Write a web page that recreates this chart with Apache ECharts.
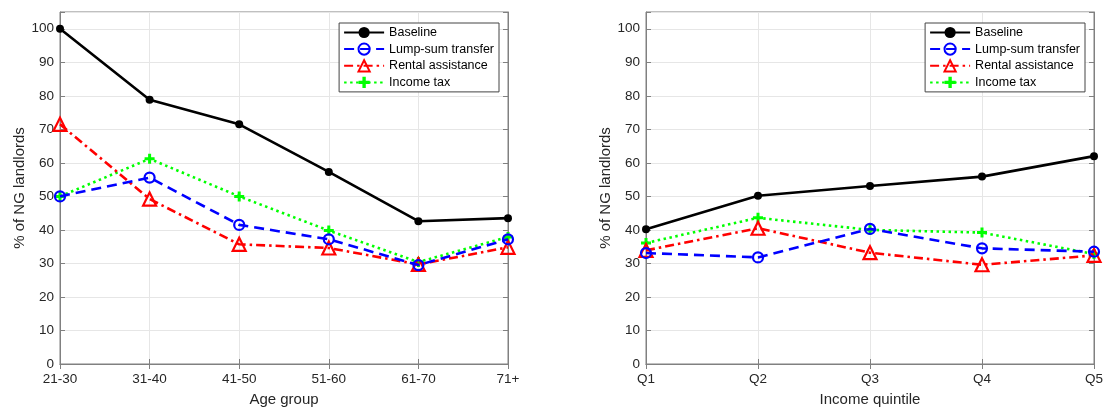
<!DOCTYPE html>
<html><head><meta charset="utf-8">
<script src="https://cdn.jsdelivr.net/npm/echarts@6/dist/echarts.min.js"></script>
<style>html,body{margin:0;padding:0;background:#fff}#c{width:1106px;height:408px}</style>
</head><body><div id="c"></div>
<script>
const ageGroups = ['21-30','31-40','41-50','51-60','61-70','71+'];
const quintiles = ['Q1','Q2','Q3','Q4','Q5'];
const seriesNames = ['Baseline','Lump-sum transfer','Rental assistance','Income tax'];
const yTicks = [0,10,20,30,40,50,60,70,80,90,100];

const ageBaseline = [100, 78.8, 71.5, 57.3, 42.6, 43.5];
const ageLumpSum  = [50, 55.6, 41.5, 37.2, 29.5, 37.2];
const ageRental   = [71.5, 49.2, 35.7, 34.6, 29.7, 34.8];
const ageIncome   = [50, 61.2, 50, 39.8, 30.4, 37.9];

const incBaseline = [40.2, 50.2, 53.1, 55.9, 62.0];
const incLumpSum  = [33.1, 31.8, 40.3, 34.5, 33.5];
const incRental   = [33.9, 40.5, 33.2, 29.6, 32.4];
const incIncome   = [36.1, 43.6, 40.0, 39.2, 32.8];

const plus = 'path://M3.5,0H6.5V3.5H10V6.5H6.5V10H3.5V6.5H0V3.5H3.5Z';
const txt = '#262626', axisC = '#808080', gridC = '#e6e6e6';
const font = 'Liberation Sans, Arial, sans-serif';

const styles = [
  {color:'#000000', type:'solid', symbol:'circle', size:8, fill:'#000000', bw:0},
  {color:'#0000ff', type:[10,6], symbol:'circle', size:10, fill:'rgba(255,255,255,0)', bw:2.2},
  {color:'#ff0000', type:[9,4,2.5,4], symbol:'triangle', size:13, fill:'rgba(255,255,255,0)', bw:2.2},
  {color:'#00ff00', type:[2.5,3.5], symbol:plus, size:10, fill:'#00ff00', bw:0}
];

function mkSeries(idx, data, gi){
  const s = styles[idx];
  return {
    name: seriesNames[idx], type:'line', xAxisIndex:gi*2, yAxisIndex:gi*2, data:data,
    symbol:s.symbol, symbolSize:s.size, showAllSymbol:true,
    lineStyle:{color:s.color, width:2.6, type:s.type},
    itemStyle:{color:s.fill, borderColor:s.color, borderWidth:s.bw},
    z: 10-idx, animation:false
  };
}

const grids = [
  {left:60, top:12, width:448, height:352, show:true, borderColor:axisC, borderWidth:1, backgroundColor:'#fff', containLabel:false, outerBoundsMode:'none'},
  {left:646, top:12, width:448, height:352, show:true, borderColor:axisC, borderWidth:1, backgroundColor:'#fff', containLabel:false, outerBoundsMode:'none'}
];

function xAx(gi, cats, name){
  return [{
    type:'category', gridIndex:gi, data:cats, boundaryGap:false,
    name:name, nameLocation:'middle', nameGap:28,
    nameTextStyle:{color:txt, fontSize:15, fontFamily:font},
    axisLine:{show:true, lineStyle:{color:axisC}},
    axisTick:{show:true, inside:true, length:5, lineStyle:{color:axisC}},
    axisLabel:{color:txt, fontSize:13.5, fontFamily:font, margin:8},
    splitLine:{show:true, lineStyle:{color:gridC}}
  },{
    type:'category', gridIndex:gi, data:cats, boundaryGap:false, position:'top',
    axisLine:{show:true, lineStyle:{color:axisC}},
    axisTick:{show:true, inside:true, length:5, lineStyle:{color:axisC}},
    axisLabel:{show:false}, splitLine:{show:false}
  }];
}
function yAx(gi){
  const base = {type:'value', gridIndex:gi, min:0, max:105, interval:10};
  return [Object.assign({}, base, {
    name:'% of NG landlords', nameLocation:'middle', nameGap:33, nameRotate:90,
    nameTextStyle:{color:txt, fontSize:15, fontFamily:font},
    axisLine:{show:true, lineStyle:{color:axisC}},
    axisTick:{show:true, inside:true, length:5, lineStyle:{color:axisC}},
    axisLabel:{color:txt, fontSize:13.5, fontFamily:font, margin:6,
      formatter:v => yTicks.indexOf(v) >= 0 ? String(v) : ''},
    splitLine:{show:true, lineStyle:{color:gridC}}
  }), Object.assign({}, base, {
    position:'right',
    axisLine:{show:true, lineStyle:{color:axisC}},
    axisTick:{show:true, inside:true, length:5, lineStyle:{color:axisC}},
    axisLabel:{show:false}, splitLine:{show:false}
  })];
}

function legend(gi, right){
  return {
    data: seriesNames, orient:'vertical', right:right, top:23,
    backgroundColor:'#fff', borderColor:'#444', borderWidth:1,
    padding:[3,5,3,4], itemGap:3.5, itemWidth:40, itemHeight:14,
    textStyle:{color:'#000', fontSize:12.5, fontFamily:font},
    selectedMode:false
  };
}

const chart = echarts.init(document.getElementById('c'), null, {renderer:'canvas'});
const opt = {
  animation:false,
  grid: grids,
  xAxis: [...xAx(0, ageGroups, 'Age group'), ...xAx(1, quintiles, 'Income quintile')],
  yAxis: [...yAx(0), ...yAx(1)],
  legend: [legend(0, 1106-499), legend(1, 1106-1085)],
  series: [
    mkSeries(0, ageBaseline, 0), mkSeries(1, ageLumpSum, 0), mkSeries(2, ageRental, 0), mkSeries(3, ageIncome, 0),
    mkSeries(0, incBaseline, 1), mkSeries(1, incLumpSum, 1), mkSeries(2, incRental, 1), mkSeries(3, incIncome, 1)
  ]
};
chart.setOption(opt);
</script></body></html>
